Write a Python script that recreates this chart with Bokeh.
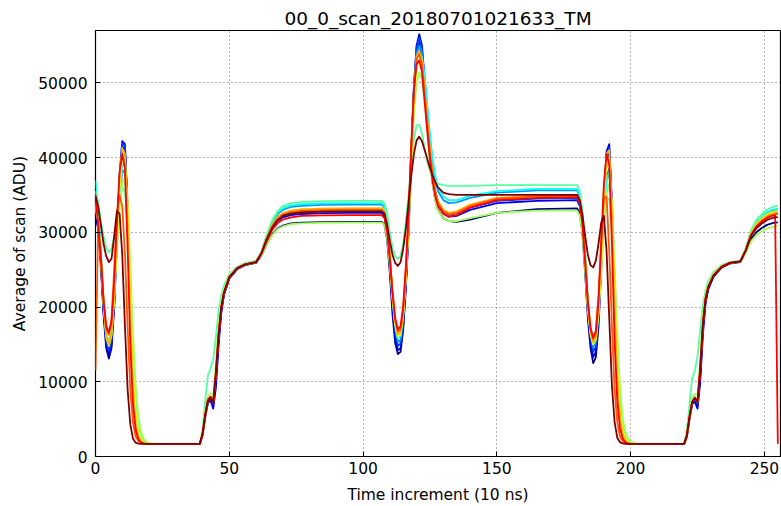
from bokeh.plotting import figure
from bokeh.models import Range1d, FixedTicker, PrintfTickFormatter
from bokeh.embed import file_html
from bokeh.resources import INLINE

TITLE = "00_0_scan_20180701021633_TM"
X_LABEL = "Time increment (10 ns)"
Y_LABEL = "Average of scan (ADU)"
FONT = "DejaVu Sans"

x_ticks = [0, 50, 100, 150, 200, 250]
y_ticks = [0, 10000, 20000, 30000, 40000, 50000]

# sample times (10 ns steps), denser around the edges of the waveform
t = ([0, 1, 2, 3, 4, 5, 6, 7, 8, 9, 10, 11, 12, 13, 14, 15, 16, 17, 18, 19, 20, 22, 25]
     + [39]
     + [40, 41, 42, 43, 44, 45, 46, 47, 48, 50, 53, 56, 60]
     + [62, 64, 66, 68, 70, 73, 77, 85, 95, 105]
     + [107, 108, 109, 110, 111, 112, 113, 114, 115, 116, 117, 118, 119, 120, 121, 122,
        123, 124, 125, 126, 127, 128, 130, 132, 135, 140, 150, 165]
     + [180, 181, 182, 183, 184, 185, 186, 187, 188, 189, 190, 191, 192, 193, 194, 195,
        196, 197, 198, 199, 200, 202, 205]
     + [220, 221, 222, 223, 224, 225, 226, 227, 228, 229, 231, 234, 237, 241]
     + [243, 245, 247, 249, 251, 253, 254, 255])

# average ADU of each scan at the sample times above
scan_00 = [32000, 30500, 25500, 19000, 14500, 13100, 14500, 20000, 28500, 36500, 41500, 41000, 33000, 20500, 10500, 5200, 3000, 2200, 1850, 1750, 1700, 1700, 1700,
           1700,
           2800, 5200, 7100, 7600, 6900, 10500, 15500, 19500, 21700, 23800, 25100, 25600, 25900,
           26900, 28400, 29700, 30500, 30900, 31200, 31300, 31370, 31400, 31400,
           31400, 31000, 29000, 24500, 19000, 15200, 13700, 14000, 17000, 22500, 30000, 39500, 48500, 54000, 55300, 53500, 49000, 44500, 40000, 36500, 34300, 33000, 31900, 31500, 31400, 31700, 32600, 33100,
           33200, 32500, 29800, 24500, 18500, 14500, 12500, 13300, 17500, 25000, 33500, 39500, 40500, 33000, 21000, 11000, 5500, 3200, 2250, 1870, 1750, 1700, 1700,
           1700, 2600, 5000, 7000, 7400, 6900, 10800, 17000, 20800, 22500, 24100, 25300, 25800, 26000,
           27350, 29060, 30000, 30570, 30990, 31220, 31300, 31330]

scan_01 = [33000, 31000, 26000, 19500, 15000, 13600, 15000, 20500, 29000, 37500, 42200, 41800, 33500, 20500, 10500, 5200, 3000, 2200, 1850, 1750, 1700, 1700, 1700,
           1700,
           2900, 5400, 7300, 7500, 6400, 9200, 14800, 19200, 21600, 23900, 25100, 25700, 26000,
           27100, 29000, 30500, 31500, 32000, 32300, 32450, 32570, 32600, 32600,
           32600, 32200, 30000, 25500, 20000, 16000, 14200, 14500, 17500, 23000, 30500, 40500, 49500, 55000, 56500, 55000, 50500, 46000, 41500, 37800, 35300, 33800, 32500, 32100, 32200, 33000, 33900, 34200,
           34300, 33500, 30700, 25300, 19300, 15200, 13300, 14000, 18300, 25800, 34500, 40800, 41800, 34000, 21500, 11300, 5600, 3200, 2250, 1870, 1750, 1700, 1700,
           1700, 2700, 5200, 7200, 7300, 6400, 9800, 16300, 20500, 22400, 24100, 25300, 25900, 26100,
           27640, 29750, 30900, 31600, 32120, 32400, 32500, 32530]

scan_02 = [34000, 31500, 26500, 20000, 15500, 14200, 15500, 21000, 29500, 37500, 42000, 41500, 33000, 20000, 10000, 5000, 2900, 2150, 1800, 1720, 1700, 1700, 1700,
           1700,
           3000, 5500, 7400, 7800, 7000, 10800, 16000, 19800, 21900, 24000, 25200, 25700, 26000,
           27200, 29200, 30800, 31800, 32400, 32700, 32850, 32970, 33000, 33000,
           33000, 32600, 30400, 26000, 20700, 16600, 14800, 15100, 18000, 23500, 31000, 40500, 49500, 54800, 56000, 54500, 50200, 45800, 41500, 38000, 35500, 34000, 32800, 32400, 32500, 33300, 34200, 34500,
           34600, 33800, 31000, 25700, 19800, 15800, 14000, 14700, 18800, 26000, 34500, 40500, 41300, 33500, 21000, 11000, 5500, 3200, 2250, 1870, 1750, 1700, 1700,
           1700, 2800, 5300, 7300, 7700, 7100, 11500, 17600, 21100, 22700, 24200, 25400, 25900, 26100,
           27680, 29860, 31050, 31780, 32300, 32600, 32700, 32730]

scan_03 = [35500, 32500, 27000, 20500, 16000, 14800, 16500, 21500, 28500, 34500, 38300, 38000, 31500, 20000, 10500, 5500, 3200, 2300, 1900, 1750, 1700, 1700, 1700,
           1700,
           3000, 5500, 7400, 7900, 7300, 11500, 16500, 20000, 22000, 24000, 25200, 25700, 26000,
           27300, 29500, 31200, 32400, 33000, 33400, 33550, 33660, 33700, 33700,
           33700, 33300, 31100, 26700, 21300, 17200, 15300, 15600, 18500, 24000, 31200, 40500, 49000, 54000, 55000, 54000, 50500, 46500, 42500, 39200, 37000, 35500, 34300, 33900, 34000, 34600, 35300, 35600,
           35600, 34800, 32000, 26500, 20500, 16500, 14600, 15300, 19300, 25800, 32500, 37500, 38500, 32500, 21500, 11500, 5900, 3400, 2350, 1900, 1760, 1700, 1700,
           1700, 2800, 5300, 7300, 7800, 7300, 12000, 18000, 21300, 22800, 24300, 25400, 25900, 26100,
           27750, 30030, 31280, 32030, 32590, 32900, 33000, 33030]

scan_04 = [36900, 33500, 27500, 21000, 16500, 15300, 17000, 22000, 29000, 35000, 39000, 39000, 33000, 22000, 12000, 6200, 3500, 2400, 1950, 1780, 1700, 1700, 1700,
           1700,
           3100, 5700, 7600, 8000, 7500, 11800, 16800, 20200, 22100, 24100, 25200, 25700, 26000,
           27300, 29600, 31400, 32600, 33200, 33600, 33750, 33860, 33900, 33900,
           33900, 33500, 31300, 27000, 21700, 17600, 15800, 16100, 19000, 24500, 31500, 40500, 48500, 53000, 54000, 53500, 51000, 47000, 43000, 39800, 37500, 36000, 34800, 34300, 34300, 34900, 35500, 35800,
           35800, 35000, 32300, 26800, 20800, 16800, 15000, 15700, 19500, 25500, 32000, 36800, 38000, 34000, 24000, 13500, 7000, 3900, 2600, 2000, 1800, 1720, 1700,
           1700, 2900, 5400, 7400, 7900, 7400, 12200, 18200, 21400, 22900, 24300, 25400, 25900, 26100,
           27800, 30100, 31350, 32100, 32680, 33000, 33100, 33130]

scan_05 = [35500, 34000, 31500, 29500, 28000, 27300, 27800, 29500, 32000, 34500, 36000, 35500, 30500, 22000, 13500, 7500, 4200, 2700, 2050, 1800, 1720, 1700, 1700,
           1700,
           3500, 7500, 10800, 11800, 13000, 16000, 19500, 21500, 22900, 24400, 25400, 25900, 26200,
           27400, 29700, 31600, 32800, 33500, 33900, 34050, 34160, 34200, 34200,
           34200, 33900, 32500, 30000, 28000, 26800, 26400, 26800, 28500, 31500, 35000, 39000, 42500, 44300, 44400, 43200, 41300, 39500, 38200, 37300, 36800, 36500, 36300, 36200, 36200, 36200, 36300, 36300,
           36300, 35500, 32800, 27300, 21200, 17200, 15500, 16200, 20000, 25500, 31000, 34300, 34500, 30500, 22500, 14000, 7800, 4400, 2800, 2100, 1850, 1720, 1700,
           1700, 3500, 7000, 10500, 11500, 13500, 17000, 20300, 22300, 23500, 24700, 25600, 26000, 26200,
           27900, 30300, 31650, 32450, 33050, 33390, 33500, 33540]

scan_06 = [33000, 31500, 27000, 21000, 16500, 15200, 16500, 21000, 27500, 33000, 36500, 37500, 34500, 26000, 16500, 9500, 5300, 3300, 2400, 2000, 1800, 1700, 1700,
           1700,
           3200, 6000, 8000, 8400, 8200, 12500, 17500, 20800, 22500, 24300, 25300, 25800, 26100,
           26900, 28400, 29600, 30400, 30800, 31100, 31200, 31270, 31300, 31300,
           31300, 31000, 29200, 25500, 21000, 17700, 16200, 16500, 19000, 24000, 30500, 38500, 45500, 50000, 51400, 50500, 47500, 43500, 39500, 36300, 34200, 32900, 31900, 31500, 31500, 31900, 32600, 32900,
           32900, 32200, 29700, 24800, 19500, 16500, 15200, 15800, 19000, 24500, 30500, 35000, 36500, 34000, 26000, 16500, 9500, 5300, 3300, 2400, 2000, 1750, 1700,
           1700, 3100, 5800, 7900, 8300, 8200, 13000, 19000, 21900, 23200, 24500, 25500, 25950, 26150,
           27230, 28780, 29630, 30140, 30520, 30730, 30800, 30820]

scan_07 = [33500, 31500, 26500, 20500, 16000, 14800, 16200, 21500, 29000, 36000, 40000, 40000, 33500, 22000, 12000, 6000, 3300, 2300, 1900, 1750, 1700, 1700, 1700,
           1700,
           3000, 5600, 7500, 7900, 7400, 11600, 16600, 20100, 22000, 24000, 25200, 25700, 26000,
           27200, 29200, 30900, 32000, 32550, 32900, 33050, 33160, 33200, 33200,
           33200, 32800, 30700, 26500, 21500, 17700, 16000, 16300, 19000, 24200, 31000, 40000, 48000, 52000, 53000, 52000, 48500, 44500, 40500, 37500, 35300, 34000, 32900, 32500, 32700, 33500, 34400, 34700,
           34800, 34000, 31200, 25900, 20200, 16400, 15000, 15700, 19700, 26500, 34000, 39200, 40000, 33500, 22000, 12000, 6100, 3500, 2400, 1920, 1770, 1700, 1700,
           1700, 2900, 5400, 7400, 7900, 7400, 12100, 18100, 21300, 22800, 24300, 25400, 25900, 26100,
           27710, 29920, 31130, 31860, 32400, 32700, 32800, 32830]

scan_08 = [34000, 31500, 26500, 20500, 16200, 15000, 16500, 22000, 30000, 37500, 41300, 40500, 31500, 18500, 9000, 4500, 2700, 2050, 1800, 1720, 1700, 1700, 1700,
           1700,
           3000, 5500, 7500, 7900, 7300, 11400, 16400, 20000, 22000, 24000, 25200, 25700, 26000,
           27200, 29200, 30900, 32000, 32550, 32900, 33050, 33160, 33200, 33200,
           33200, 32800, 30800, 26700, 21800, 18000, 16300, 16600, 19300, 24500, 31500, 40700, 49000, 53500, 54300, 53000, 49000, 45000, 41000, 37800, 35500, 34200, 33000, 32600, 32800, 33700, 34600, 34900,
           35000, 34200, 31400, 26100, 20400, 16600, 15300, 16000, 20200, 27500, 35500, 40500, 41000, 32500, 20000, 10300, 5200, 3000, 2200, 1830, 1730, 1700, 1700,
           1700, 2800, 5300, 7300, 7800, 7300, 11900, 17900, 21200, 22800, 24300, 25400, 25900, 26100,
           27660, 29800, 30980, 31690, 32210, 32500, 32600, 32630]

scan_09 = [11500, 31000, 27000, 21000, 17000, 16300, 18500, 25000, 32500, 35000, 33500, 27000, 17500, 9000, 4600, 2700, 2050, 1800, 1720, 1700, 1700, 1700, 1700,
           1700,
           3000, 5600, 7500, 7900, 7300, 11300, 16300, 19900, 21900, 24000, 25200, 25700, 26000,
           27200, 29200, 30800, 31800, 32400, 32700, 32850, 32970, 33000, 33000,
           33000, 32600, 30600, 26700, 22000, 18300, 16700, 17000, 19700, 25000, 32000, 41000, 49000, 53200, 53800, 52500, 48500, 44500, 40500, 37300, 35200, 33900, 32800, 32400, 32600, 33500, 34500, 34800,
           34900, 34100, 31300, 26200, 20800, 17200, 15700, 16800, 21500, 29000, 34500, 34800, 27500, 17500, 9000, 4600, 2700, 2050, 1800, 1720, 1700, 1700, 1700,
           1700, 2800, 5300, 7300, 7800, 7300, 11800, 17800, 21200, 22700, 24300, 25400, 25900, 26100,
           27610, 29690, 30830, 31520, 32020, 32300, 32400, 32430]

scan_10 = [34900, 31000, 26500, 21000, 17500, 16600, 18000, 23500, 31500, 38000, 40500, 38500, 28000, 15000, 7000, 3600, 2300, 1900, 1750, 1700, 1700, 1700, 1700,
           1700,
           3000, 5600, 7600, 8000, 7200, 11000, 16000, 19800, 21900, 24000, 25200, 25700, 26000,
           27100, 28800, 30300, 31200, 31700, 32000, 32200, 32270, 32300, 32300,
           32300, 31900, 30000, 26400, 22000, 18500, 17000, 17400, 20200, 25500, 32500, 41500, 49000, 52500, 53000, 51500, 47500, 43500, 39800, 36800, 34800, 33500, 32500, 32100, 32300, 33300, 34300, 34600,
           34700, 33900, 31100, 26000, 20700, 17200, 15900, 16700, 21000, 28500, 36500, 40500, 39000, 28500, 15500, 7500, 3800, 2400, 1900, 1750, 1700, 1700, 1700,
           1700, 2800, 5300, 7300, 7900, 7400, 11700, 17700, 21100, 22700, 24200, 25400, 25900, 26100,
           27590, 29630, 30750, 31430, 31930, 32210, 32300, 1700]

scan_11 = [34900, 33500, 31000, 28500, 26800, 26000, 26500, 29500, 32800, 32500, 27000, 17500, 9000, 4300, 2400, 1850, 1720, 1700, 1700, 1700, 1700, 1700, 1700,
           1700,
           3000, 5500, 7400, 7800, 7200, 11200, 16200, 19900, 21900, 24000, 25200, 25700, 26000,
           27200, 29100, 30600, 31600, 32200, 32500, 32650, 32770, 32800, 32800,
           32800, 32500, 31000, 28800, 27000, 25900, 25500, 26000, 27800, 30500, 34000, 37500, 40500, 42300, 42800, 42200, 41000, 39800, 38600, 37600, 36700, 36000, 35300, 35100, 35000, 35000, 35000, 35000,
           35000, 34300, 32300, 29500, 27000, 25600, 25300, 26200, 28500, 31300, 32200, 27500, 18500, 9500, 4600, 2500, 1900, 1750, 1700, 1700, 1700, 1700, 1700,
           1700, 2800, 5300, 7300, 7800, 7300, 11600, 17600, 21000, 22600, 24200, 25300, 25900, 26100,
           27520, 29460, 30530, 31170, 31650, 31910, 32000, 32030]

scans = [scan_00, scan_01, scan_02, scan_03, scan_04, scan_05,
         scan_06, scan_07, scan_08, scan_09, scan_10, scan_11]

# jet colormap sampled at 12 evenly spaced points
colors = ["#000080", "#0000e8", "#003aff", "#0096ff", "#0bffeb", "#56ffa1",
          "#a1ff56", "#ebff0b", "#ffac00", "#ff5700", "#ff0100", "#800000"]

for i, s in enumerate(scans):
    if len(s) != len(t):
        raise ValueError(f"scan {i}: {len(s)} values for {len(t)} times")

p = figure(width=781, height=506, output_backend="svg", toolbar_location=None,
           x_range=Range1d(0, 256), y_range=Range1d(0, 57000),
           min_border_left=95, min_border_right=1, min_border_top=30, min_border_bottom=50,
           title=TITLE)
p.background_fill_color = "white"
p.border_fill_color = "white"
p.outline_line_color = "black"
p.outline_line_width = 1.2

p.title.align = "center"
p.title.text_font = FONT
p.title.text_font_size = "18.5px"
p.title.text_font_style = "normal"
p.title.text_color = "black"
p.title.standoff = 3

for s, c in zip(scans, colors):
    p.line(t, s, line_color=c, line_width=1.8, line_join="round")

p.xaxis.ticker = FixedTicker(ticks=x_ticks)
p.yaxis.ticker = FixedTicker(ticks=y_ticks)
p.yaxis.formatter = PrintfTickFormatter(format="%d")
p.xaxis.axis_label = X_LABEL
p.yaxis.axis_label = Y_LABEL

for ax in (p.xaxis[0], p.yaxis[0]):
    ax.axis_line_color = None
    ax.major_tick_in = 5
    ax.major_tick_out = 0
    ax.minor_tick_line_color = None
    ax.major_tick_line_color = "black"
    ax.major_label_text_font = FONT
    ax.major_label_text_font_size = "15.5px"
    ax.major_label_text_color = "black"
    ax.axis_label_text_font = FONT
    ax.axis_label_text_font_size = "15.5px"
    ax.axis_label_text_font_style = "normal"
    ax.axis_label_text_color = "black"

p.xaxis.major_label_standoff = 5
p.xaxis.axis_label_standoff = 9
p.yaxis.major_label_standoff = 8
p.yaxis.axis_label_standoff = 6

p.xgrid.grid_line_color = "#222222"
p.ygrid.grid_line_color = "#222222"
p.xgrid.grid_line_alpha = 0.7
p.ygrid.grid_line_alpha = 0.7
p.xgrid.grid_line_dash = "1 3"
p.ygrid.grid_line_dash = "1 3"
p.xgrid.grid_line_width = 1
p.ygrid.grid_line_width = 1

open("out.html", "w").write(file_html(p, INLINE))
